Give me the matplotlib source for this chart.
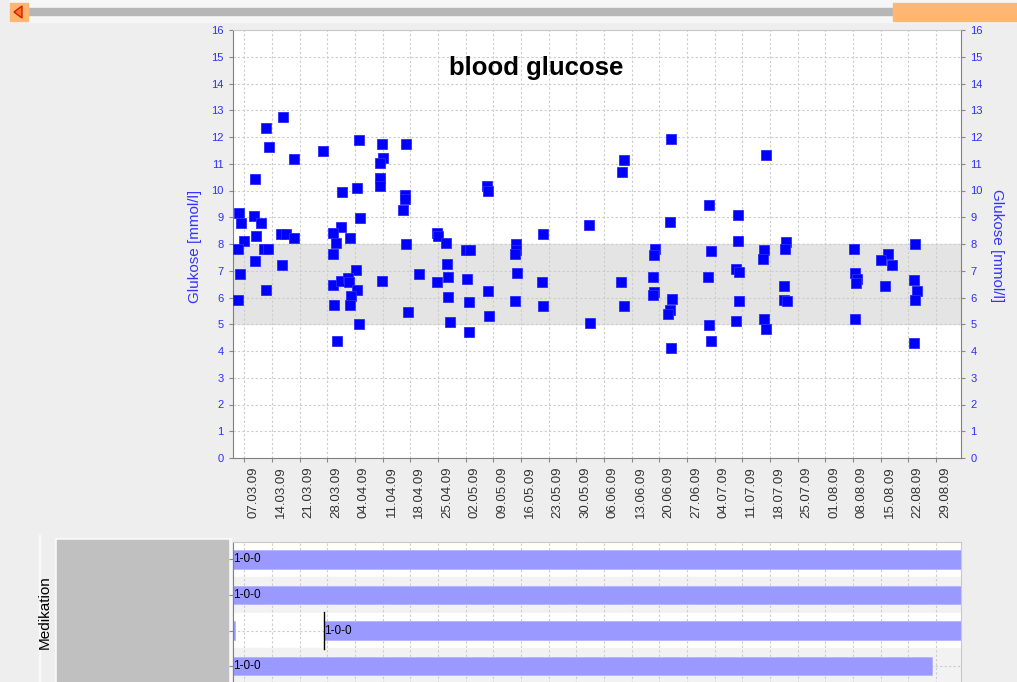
import matplotlib
matplotlib.use("Agg")
import matplotlib.pyplot as plt
import matplotlib.dates as mdates
import matplotlib.transforms as mtransforms
from matplotlib.patches import Rectangle, Polygon
import pandas as pd

plt.rcParams["font.family"] = ["Liberation Sans", "DejaVu Sans"]

# Messzeitpunkte in Tagen ab 07.03.09 und Blutzuckerwerte
start = pd.Timestamp("2009-03-07")
tage = [9.79, 5.57, 6.17, 12.65, 19.83, 2.71, -1.26, -0.91, 2.38, 4.30, 2.96, -0.15, -1.67, 4.98, 6.0,
        9.41, 10.55, 12.57, 2.63, 9.46, -1.16, 5.57, -1.59, 28.94, 34.76, 40.91, 35.09, 34.40, 34.40, 34.40,
        24.64, 28.59, 40.65, 40.65, 40.22, 29.19, 24.39, 22.36, 26.66, 23.12, 40.83, 22.36, 28.26, 34.76, 22.36,
        24.39, 26.31, 26.49, 28.59, 26.99, 26.66, 22.77, 41.49, 28.94, 23.45, 44.12, 61.32, 61.65, 48.67, 48.92,
        75.56, 87.20, 50.95, 56.08, 57.10, 68.81, 68.73, 68.40, 51.28, 48.67, 51.53, 56.41, 69.06, 75.23, 61.65,
        51.53, 56.77, 68.48, 75.56, 61.90, 51.96, 87.53, 56.84, 107.94, 131.90, 95.98, 95.62, 117.63, 124.82, 107.61,
        124.82, 103.97, 103.64, 117.99, 131.55, 131.22, 95.29, 103.31, 117.30, 124.39, 125.15, 103.64, 103.31, 108.27, 125.07,
        95.98, 107.61, 107.26, 117.63, 124.39, 131.55, 131.90, 117.99, 107.94, 137.04, 136.71, 154.16, 169.74, 162.91, 160.99,
        163.85, 154.49, 154.92, 154.82, 162.00, 136.60, 169.42, 170.10, 169.74, 136.45, 137.36, 154.49, 169.42]
glukose = [12.74, 12.34, 11.61, 11.19, 11.48, 10.42, 9.17, 8.79, 9.04, 8.79, 8.31, 8.12, 7.82, 7.82, 7.82,
           8.37, 8.37, 8.21, 7.35, 7.23, 6.89, 6.29, 5.92, 11.90, 11.75, 11.75, 11.23, 11.02, 10.46, 10.17,
           9.94, 10.09, 9.84, 9.67, 9.27, 8.98, 8.65, 8.41, 8.22, 8.03, 7.99, 7.64, 7.03, 6.63, 6.46,
           6.61, 6.73, 6.59, 6.29, 6.04, 5.73, 5.73, 5.45, 5.01, 4.39, 6.88, 10.18, 9.98, 8.42, 8.30,
           8.36, 8.72, 8.03, 7.79, 7.79, 7.99, 7.78, 7.64, 7.26, 6.59, 6.78, 6.68, 6.93, 6.59, 6.26,
           6.01, 5.82, 5.88, 5.68, 5.30, 5.10, 5.06, 4.71, 11.94, 11.34, 11.14, 10.70, 9.46, 9.07, 8.83,
           8.12, 7.80, 7.59, 7.74, 7.78, 7.45, 6.59, 6.78, 6.78, 7.07, 6.95, 6.21, 6.11, 5.96, 5.87,
           5.68, 5.53, 5.39, 4.96, 5.11, 5.20, 4.82, 4.39, 4.10, 8.09, 7.81, 7.82, 8.01, 7.64, 7.41,
           7.20, 6.93, 6.68, 6.53, 6.44, 6.44, 6.64, 6.24, 5.91, 5.91, 5.86, 5.20, 4.29]

# Zielbereich
ziel_unten = 5
ziel_oben = 8

# Achsen
y_ticks = list(range(0, 17))
x_ticks = pd.date_range("2009-03-07", "2009-08-29", freq="7D")
x_von = pd.Timestamp("2009-03-04 05:15")
x_bis = pd.Timestamp("2009-09-04 06:00")

# Medikation: Zeile, Beginn, Ende, Dosierung
med_zeile = [0, 1, 2, 2, 3]
med_beginn = ["2009-02-20", "2009-02-20", "2009-02-20", "2009-03-27 04:00", "2009-02-20"]
med_ende = ["2009-09-30", "2009-09-30", "2009-03-04 16:00", "2009-09-30", "2009-08-28 01:00"]
med_text = ["1-0-0", "1-0-0", "", "1-0-0", "1-0-0"]

W, H = 1017, 682
fig = plt.figure(figsize=(W / 100, H / 100), dpi=100, facecolor="#eeeeee")


def box(x0, y0, x1, y1):
    # Pixelrechteck -> Figure-Koordinaten
    return [x0 / W, 1 - y1 / H, (x1 - x0) / W, (y1 - y0) / H]


# Hintergrund mit Scrollbalken und grauem Kasten
bg = fig.add_axes([0, 0, 1, 1], zorder=-1)
bg.set_xlim(0, W)
bg.set_ylim(H, 0)
bg.axis("off")
bg.add_patch(Rectangle((10, 0), W - 10, 22, color="#f6f6f6"))
bg.add_patch(Rectangle((28, 8), 865, 7, color="#b6b6b6"))
bg.add_patch(Rectangle((893, 3), W - 893, 18, color="#ffb672"))
bg.add_patch(Rectangle((10, 3), 18, 18, color="#ffb672"))
bg.add_patch(Polygon([[14, 12], [22, 6], [22, 18]], closed=True,
                     facecolor="#ff7030", edgecolor="#d02000", lw=1))
bg.add_patch(Rectangle((38.5, 535), 1, H - 535, color="#fafafa"))
bg.add_patch(Rectangle((55, 538), 176, H - 538, color="#f8f8f8"))
bg.add_patch(Rectangle((56.7, 540), 171.6, H - 540, color="#c0c0c0"))
bg.text(45, 612, "Medikation", rotation=90, ha="center", va="center", fontsize=11)

# Blutzucker-Diagramm
ax = fig.add_axes(box(233.3, 30, 960.7, 458))
datum = start + pd.to_timedelta(tage, unit="D")
ax.axhspan(ziel_unten, ziel_oben, color="#e4e4e4", zorder=0.2)
ax.plot(datum, glukose, linestyle="none", marker="s", ms=6.5,
        mfc="#0000ff", mec="#2a2aff", mew=0.6, zorder=3)
ax.set_xlim(x_von, x_bis)
ax.set_ylim(0, 16)
ax.set_yticks(y_ticks)
ax.set_xticks(x_ticks)
ax.xaxis.set_major_formatter(mdates.DateFormatter("%d.%m.%y"))
ax.set_axisbelow(True)
ax.grid(True, color="#cccccc", linestyle=(0, (2, 2)), linewidth=0.8)
ax.tick_params(axis="y", color="#888888", labelcolor="#2e2eff", length=3, labelsize=8, pad=4)
ax.tick_params(axis="x", color="#888888", labelcolor="#333333", length=3, labelsize=9.5,
               labelrotation=90, pad=3)
off = mtransforms.ScaledTranslation(9 / 100, 0, fig.dpi_scale_trans)
for lbl in ax.get_xticklabels():
    lbl.set_transform(lbl.get_transform() + off)
for s in ["left", "right", "bottom"]:
    ax.spines[s].set_color("#808080")
ax.spines["top"].set_color("#c8c8c8")

ax_r = ax.twinx()
ax_r.set_ylim(0, 16)
ax_r.set_yticks(y_ticks)
ax_r.tick_params(axis="y", color="#888888", labelcolor="#2e2eff", length=3, labelsize=8, pad=4)
for s in ax_r.spines.values():
    s.set_visible(False)

fig.text(536 / W, 1 - 68 / H, "blood glucose", fontsize=18.5, fontweight="bold",
         ha="center", va="center")
fig.text(195 / W, 1 - 246 / H, "Glukose [mmol/l]", rotation=90, color="#3333ff",
         fontsize=11, ha="center", va="center")
fig.text(997 / W, 1 - 246 / H, "Glukose [mmol/l]", rotation=270, color="#3333ff",
         fontsize=11, ha="center", va="center")

# Medikations-Diagramm
ax2 = fig.add_axes(box(233.3, 541.7, 960.7, 684))
ax2.set_xlim(x_von, x_bis)
ax2.set_ylim(3.5, -0.5)
for i in range(4):
    ax2.axhspan(i - 0.5, i + 0.5, color="white" if i % 2 == 0 else "#f2f2f2", zorder=0.1)
ax2.set_xticks(x_ticks)
ax2.set_yticks(range(4))
ax2.set_xticklabels([])
ax2.set_yticklabels([])
ax2.set_axisbelow(True)
ax2.grid(True, color="#cccccc", linestyle=(0, (2, 2)), linewidth=0.8)
ax2.tick_params(axis="x", length=0)
ax2.tick_params(axis="y", color="#888888", length=3)
for z, b, e, t in zip(med_zeile, med_beginn, med_ende, med_text):
    b = mdates.date2num(pd.Timestamp(b))
    e = mdates.date2num(pd.Timestamp(e))
    ax2.barh(z, e - b, left=b, height=0.52, color="#9999ff", edgecolor="#b0b0ff",
             linewidth=0.5, zorder=2)
    if b > mdates.date2num(x_von):
        ax2.plot([b, b], [z - 0.52, z + 0.52], color="black", linewidth=1, zorder=3)
    if t:
        ax2.text(max(b, mdates.date2num(x_von)), z, t, ha="left", va="center",
                 fontsize=8.5, zorder=4)
ax2.spines["left"].set_color("#808080")
for s in ["top", "right", "bottom"]:
    ax2.spines[s].set_color("#c8c8c8")

fig.savefig("out.png", dpi=100, facecolor=fig.get_facecolor())
